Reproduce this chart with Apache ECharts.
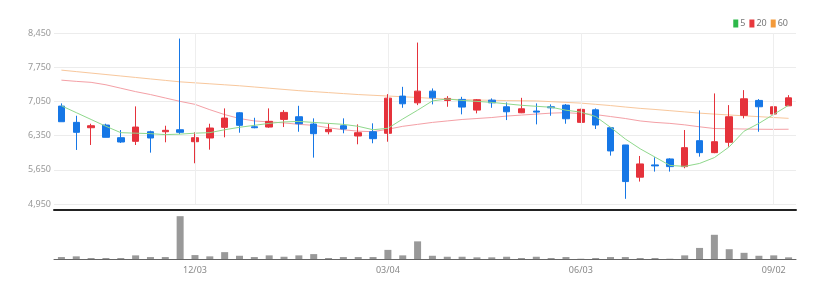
<!DOCTYPE html>
<html><head><meta charset="utf-8">
<script src="https://cdn.jsdelivr.net/npm/echarts@6/dist/echarts.min.js"></script>
<style>html,body{margin:0;padding:0;background:#fff}#c{width:829px;height:291px}</style>
</head><body><div id="c"></div>
<script>
const categories = ['10/01','10/08','10/15','10/22','10/29','11/05','11/12','11/19','11/26','12/03','12/10','12/17','12/24','12/31','01/07','01/14','01/21','01/28','02/04','02/11','02/18','02/25','03/04','03/11','03/18','03/25','04/01','04/08','04/15','04/22','04/29','05/06','05/13','05/20','05/27','06/03','06/10','06/17','06/24','07/01','07/08','07/15','07/22','07/29','08/05','08/12','08/19','08/26','09/02','09/09'];
const shownLabels = ['12/03','03/04','06/03','09/02'];
const opens  = [6954,6621,6511,6566,6307,6233,6429,6429,6470,6225,6301,6519,6817,6531,6525,6682,6736,6587,6429,6552,6342,6429,6397,7158,7021,7260,7070,7091,6872,7076,6940,6817,6852,6940,6974,6621,6878,6511,6158,5499,5750,5872,5715,6246,6001,6213,6764,7070,6791,6960];
const closes = [6634,6417,6552,6315,6219,6525,6301,6458,6417,6307,6505,6709,6560,6511,6642,6825,6593,6389,6478,6485,6409,6287,7117,7001,7260,7123,7111,6934,7083,7021,6838,6899,6831,6919,6695,6887,6566,6036,5409,5770,5730,5715,6103,6001,6225,6736,7103,6940,6940,7123];
const lows   = [6634,6056,6158,6315,6200,6158,6001,6213,6380,5784,6062,6315,6409,6500,6510,6525,6429,5899,6376,6397,6172,6193,6225,6919,6974,6989,6940,6785,6805,6919,6668,6810,6580,6756,6593,6610,6485,5940,5056,5409,5613,5613,5682,5919,5990,6123,6703,6429,6601,6955];
const highs  = [7009,6756,6593,6593,6464,6948,6450,6552,8336,6417,6593,6907,6830,6715,6907,6872,6960,6703,6593,6703,6580,6601,7199,7348,8254,7315,7158,7144,7097,7111,7029,7123,7009,6989,6995,6900,6907,6525,6160,5933,5907,5886,6464,6866,7213,6974,7281,7097,7111,7178];
const ma5  = [6960,6820,6680,6540,6410,6400,6390,6370,6380,6400,6410,6470,6520,6560,6600,6630,6640,6620,6600,6580,6540,6470,6500,6690,6870,7060,7100,7070,7050,7030,7000,6970,6950,6930,6870,6830,6740,6520,6280,6080,5910,5740,5720,5780,5900,6120,6440,6600,6785,6970];
const ma20 = [7485,7460,7440,7390,7320,7250,7190,7120,7050,6990,6880,6780,6700,6650,6630,6610,6580,6560,6510,6470,6440,6430,6480,6540,6580,6620,6650,6680,6700,6720,6750,6770,6790,6810,6820,6800,6780,6740,6700,6650,6620,6600,6570,6530,6495,6490,6485,6480,6478,6480];
const ma60 = [7690,7660,7630,7600,7570,7540,7510,7480,7450,7430,7410,7390,7370,7345,7320,7295,7270,7250,7230,7210,7190,7175,7160,7145,7130,7112,7095,7085,7078,7072,7067,7063,7060,7045,7030,7015,6990,6965,6935,6907,6885,6860,6835,6810,6790,6772,6755,6738,6720,6703];
const volumes = [20,27,10,10,10,37,20,20,437,40,27,70,33,20,37,23,37,50,10,20,20,20,93,37,180,33,23,23,17,17,23,10,23,10,20,3,10,20,20,10,10,3,37,113,247,100,63,33,37,17];
const yTicks = {min: 4950, max: 8450, interval: 700};

const candleData = opens.map((o, i) => [o, closes[i], lows[i], highs[i]]);
const showIdx = (idx, val) => shownLabels.indexOf(val) >= 0;
const font = 'Noto Sans';

const chart = echarts.init(document.getElementById('c'), null, {renderer: 'canvas'});
chart.setOption({
  animation: false,
  backgroundColor: '#fff',
  textStyle: {fontFamily: font},
  legend: {
    data: ['5', '20', '60'], right: 36, top: 14, icon: 'rect',
    itemWidth: 5, itemHeight: 8, itemGap: 4,
    textStyle: {fontSize: 9, color: '#777', padding: [0, 0, 0, -3]}
  },
  grid: [
    {left: 54, width: 742, top: 33, height: 171},
    {left: 54, width: 742, top: 210, height: 49}
  ],
  xAxis: [
    {type: 'category', data: categories, gridIndex: 0, boundaryGap: true,
     axisLine: {show: false}, axisTick: {show: false}, axisLabel: {show: false}, splitLine: {show: false}},
    {type: 'category', data: categories, gridIndex: 1, boundaryGap: true,
     axisLine: {lineStyle: {color: '#666', width: 1}},
     axisTick: {alignWithLabel: true, interval: showIdx, length: 4, lineStyle: {color: '#666'}},
     axisLabel: {interval: showIdx, fontSize: 9, color: '#888', margin: 7, fontFamily: font},
     splitLine: {show: false}},
    {type: 'category', data: categories, gridIndex: 1, position: 'top', boundaryGap: true,
     axisLine: {lineStyle: {color: '#222', width: 2}}, axisTick: {show: false}, axisLabel: {show: false}}
  ],
  yAxis: [
    {type: 'value', gridIndex: 0, min: yTicks.min, max: yTicks.max, interval: yTicks.interval,
     axisLine: {show: false}, axisTick: {show: false},
     axisLabel: {fontSize: 9, color: '#999', margin: 3, fontFamily: font,
       formatter: v => v.toLocaleString('en-US')},
     splitLine: {lineStyle: {color: '#ececec', width: 1}}},
    {type: 'value', gridIndex: 1, min: 0, max: 500, show: false, splitLine: {show: false}}
  ],
  series: [
    {name: 'candle', type: 'candlestick', xAxisIndex: 0, yAxisIndex: 0, data: candleData,
     barWidth: 7,
     itemStyle: {color: '#e5323b', color0: '#1677e6', borderColor: '#e5323b', borderColor0: '#1677e6', borderWidth: 1},
     markLine: {silent: true, symbol: 'none', label: {show: false},
       lineStyle: {color: '#eeeeee', type: 'solid', width: 1},
       data: shownLabels.map(l => ({xAxis: l}))},
     z: 3},
    {name: '5', type: 'line', xAxisIndex: 0, yAxisIndex: 0, data: ma5, symbol: 'none', smooth: false,
     itemStyle: {color: '#2db84a'}, lineStyle: {color: '#8fd88c', width: 1}, z: 4},
    {name: '20', type: 'line', xAxisIndex: 0, yAxisIndex: 0, data: ma20, symbol: 'none',
     itemStyle: {color: '#e8383d'}, lineStyle: {color: '#f4a0a6', width: 1}, z: 2},
    {name: '60', type: 'line', xAxisIndex: 0, yAxisIndex: 0, data: ma60, symbol: 'none',
     itemStyle: {color: '#f39a3a'}, lineStyle: {color: '#f8c79c', width: 1}, z: 2},
    {name: 'vol', type: 'bar', xAxisIndex: 1, yAxisIndex: 1, data: volumes, barWidth: 7,
     itemStyle: {color: '#999999'}}
  ]
});
</script></body></html>
